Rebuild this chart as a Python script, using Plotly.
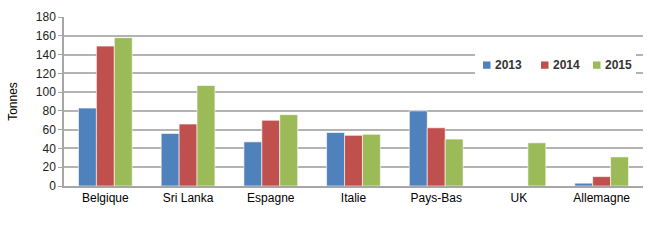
import plotly.graph_objects as go

categories = ["Belgique", "Sri Lanka", "Espagne", "Italie", "Pays-Bas", "UK", "Allemagne"]
years = ["2013", "2014", "2015"]
v2013 = [83, 56, 47, 57, 80, None, 3]
v2014 = [149, 66, 70, 54, 62, None, 10]
v2015 = [158, 107, 76, 55, 50, 46, 31]
colors = ["#4F81BD", "#C0504D", "#9BBB59"]
yticks = [0, 20, 40, 60, 80, 100, 120, 140, 160, 180]

# layout geometry (pixels)
W, H = 653, 245
ML, MR, MT, MB = 64, 10, 13, 59
PW, PH = W - ML - MR, H - MT - MB


def px_x(x):
    return (x - ML) / PW


def px_y(y):
    return (H - MB - y) / PH


fig = go.Figure()
for name, vals, col in zip(years, [v2013, v2014, v2015], colors):
    fig.add_trace(go.Bar(x=categories, y=vals, name=name, marker_color=col, showlegend=False,
                         marker_line=dict(color="rgba(255,255,255,0.6)", width=1)))

# Legend drawn as a white box with colour keys and labels
shapes = [dict(type="rect", xref="paper", yref="paper", x0=px_x(475), x1=px_x(636),
               y0=px_y(73), y1=px_y(50), fillcolor="white", line=dict(width=0), layer="above")]
annotations = []
key_left = [483, 541, 593]
for name, col, kx in zip(years, colors, key_left):
    shapes.append(dict(type="rect", xref="paper", yref="paper", x0=px_x(kx), x1=px_x(kx + 7.5),
                       y0=px_y(66), y1=px_y(58.5), fillcolor=col, line=dict(width=0), layer="above"))
    annotations.append(dict(xref="paper", yref="paper", x=px_x(kx + 10), y=px_y(62.5),
                            xanchor="left", yanchor="middle", text="<b>" + name + "</b>", showarrow=False,
                            font=dict(size=12, color="#333333", family="Liberation Sans, Arial, sans-serif")))

fig.update_layout(
    width=W, height=H,
    margin=dict(l=ML, r=MR, t=MT, b=MB),
    paper_bgcolor="white", plot_bgcolor="white",
    barmode="group", bargap=0.35, bargroupgap=0,
    font=dict(family="Liberation Sans, Arial, sans-serif", size=12, color="black"),
    showlegend=False,
    shapes=shapes, annotations=annotations,
)
fig.update_yaxes(range=[0, 180], tickvals=yticks, showgrid=True, gridcolor="#b3b3b3", gridwidth=1.5,
                 showline=True, linecolor="#a6a6a6", linewidth=1.5, ticks="outside", ticklen=4,
                 tickcolor="#a6a6a6", zeroline=False,
                 title=dict(text="Tonnes", standoff=16, font=dict(size=12)), tickfont=dict(size=12, color="#222"))
fig.update_xaxes(showline=True, linecolor="#a6a6a6", linewidth=1.5, ticks="", tickfont=dict(size=12, color="black"))

fig.write_html("out.html")
